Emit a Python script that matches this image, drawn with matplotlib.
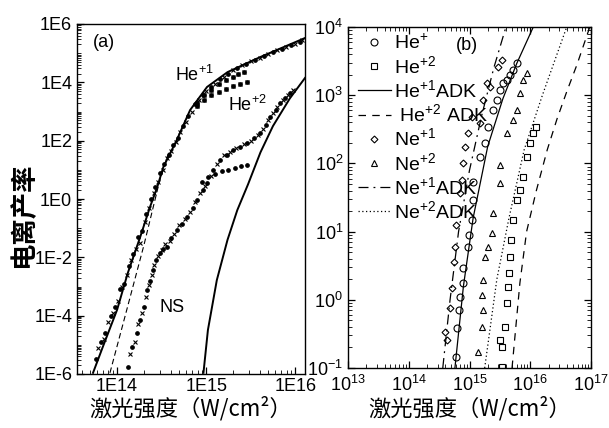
import numpy as np
import matplotlib
matplotlib.use('Agg')
import matplotlib.pyplot as plt
from matplotlib.ticker import LogLocator, NullFormatter

plt.rcParams['font.family'] = ['Liberation Sans', 'Noto Sans CJK SC', 'DejaVu Sans']
plt.rcParams['mathtext.fontset'] = 'custom'
plt.rcParams['mathtext.rm'] = 'Liberation Sans'
plt.rcParams['mathtext.it'] = 'Liberation Sans:italic'
plt.rcParams['mathtext.bf'] = 'Liberation Sans:bold'
plt.rcParams['mathtext.default'] = 'regular'

# ---------------- Panel (a) data (log10 intensity, log10 yield) ----------------
a_he1_adk_logI = [13.73, 13.84, 14.0, 14.12, 14.26, 14.37, 14.45, 14.52, 14.67, 14.82, 15.01, 15.24, 15.61, 16.11]
a_he1_adk_logY = [-5.96, -5.07, -3.8, -2.54, -1.3, -0.27, 0.4, 1.1, 2.02, 3.05, 3.84, 4.35, 4.87, 5.52]

a_dash_logI = [13.92, 14.1, 14.3, 14.48, 14.58]
a_dash_logY = [-5.96, -3.9, -1.6, 0.65, 1.6]

a_he2_adk_logI = [14.97, 15.02, 15.12, 15.24, 15.35, 15.47, 15.61, 15.75, 15.94, 16.11]
a_he2_adk_logY = [-5.96, -4.49, -2.78, -1.4, -0.38, 0.5, 1.6, 2.5, 3.45, 4.15]

a_he1_dots_logI = [13.76, 13.82, 13.87, 13.93, 13.98, 14.03, 14.08, 14.13, 14.18, 14.23, 14.28, 14.33,
                   14.38, 14.43, 14.48, 14.53, 14.58, 14.63, 14.68, 14.74, 14.8, 14.88, 14.96, 15.05,
                   15.15, 15.25, 15.35, 15.45, 15.55, 15.65, 15.75, 15.85, 15.95, 16.05]
a_he1_dots_logY = [-5.5, -4.9, -4.6, -4.0, -3.7, -3.1, -2.9, -2.3, -1.9, -1.3, -1.1, -0.5,
                   0.0, 0.4, 0.9, 1.2, 1.5, 1.85, 2.1, 2.5, 2.85, 3.25, 3.55, 3.85,
                   4.1, 4.3, 4.5, 4.62, 4.76, 4.9, 5.03, 5.14, 5.27, 5.4]
a_he1_cross_logI = [13.79, 13.85, 13.9, 13.95, 14.01, 14.06, 14.11, 14.16, 14.21, 14.26, 14.31, 14.36,
                    14.41, 14.46, 14.51, 14.56, 14.61, 14.66, 14.71, 14.77, 14.84, 14.92, 15.0, 15.1,
                    15.2, 15.3, 15.4, 15.5, 15.6, 15.7, 15.8, 15.9, 16.0, 16.08]
a_he1_cross_logY = [-5.1, -4.8, -4.2, -3.9, -3.5, -3.0, -2.6, -2.1, -1.7, -1.5, -0.8, -0.3,
                    0.2, 0.6, 1.0, 1.4, 1.65, 1.95, 2.3, 2.65, 3.0, 3.4, 3.7, 3.95,
                    4.2, 4.42, 4.58, 4.72, 4.84, 4.97, 5.1, 5.2, 5.33, 5.46]
a_he1_br1_logI = [14.9, 14.98, 15.06, 15.14, 15.22, 15.3, 15.36, 15.42]
a_he1_br1_logY = [3.3, 3.55, 3.75, 3.95, 4.08, 4.2, 4.28, 4.35]
a_he1_br2_logI = [14.9, 14.98, 15.06, 15.14, 15.22, 15.3, 15.38, 15.46]
a_he1_br2_logY = [3.2, 3.4, 3.55, 3.68, 3.78, 3.88, 3.95, 4.0]

a_he2_dots_logI = [14.12, 14.17, 14.22, 14.26, 14.3, 14.34, 14.37, 14.4, 14.44, 14.48, 14.52, 14.56,
                   14.61, 14.67, 14.73, 14.79, 14.85, 14.9, 14.96, 15.01, 15.08, 15.16, 15.23, 15.3,
                   15.38, 15.46, 15.54, 15.61, 15.67, 15.72, 15.78, 15.83, 15.89, 15.94]
a_he2_dots_logY = [-5.76, -5.07, -4.6, -4.15, -3.7, -3.12, -2.8, -2.43, -2.1, -1.85, -1.7, -1.64,
                   -1.35, -1.06, -0.85, -0.62, -0.3, -0.03, 0.3, 0.55, 1.0, 1.35, 1.52, 1.68,
                   1.8, 1.92, 2.1, 2.26, 2.55, 2.81, 3.05, 3.29, 3.45, 3.63]
a_he2_cross_logI = [14.15, 14.2, 14.24, 14.28, 14.32, 14.36, 14.39, 14.42, 14.46, 14.5, 14.54, 14.59,
                    14.64, 14.7, 14.76, 14.82, 14.88, 14.93, 14.99, 15.05, 15.12, 15.2, 15.27, 15.34,
                    15.42, 15.5, 15.58, 15.64, 15.7, 15.75, 15.8, 15.86, 15.92, 15.98]
a_he2_cross_logY = [-5.3, -4.9, -4.3, -3.9, -3.35, -2.95, -2.6, -2.25, -1.95, -1.75, -1.55, -1.45,
                    -1.2, -0.9, -0.7, -0.45, -0.1, 0.2, 0.45, 0.8, 1.2, 1.5, 1.62, 1.75,
                    1.88, 2.0, 2.2, 2.4, 2.7, 2.95, 3.15, 3.38, 3.55, 3.75]
a_he2_br_logI = [14.95, 15.02, 15.1, 15.18, 15.25, 15.32, 15.39, 15.46]
a_he2_br_logY = [0.6, 0.75, 0.85, 0.95, 1.0, 1.07, 1.12, 1.17]

a_ytick_vals = [1e-6, 1e-4, 1e-2, 1e0, 1e2, 1e4, 1e6]
a_ytick_labels = ['1E-6', '1E-4', '1E-2', '1E0', '1E2', '1E4', '1E6']
a_xtick_vals = [1e14, 1e15, 1e16]
a_xtick_labels = ['1E14', '1E15', '1E16']

# ---------------- Panel (b) data (log10 intensity, log10 yield) ----------------
b_he1_logI = [14.78, 14.8, 14.83, 14.84, 14.9, 14.9, 14.97, 14.99, 15.04, 15.06, 15.06, 15.17,
              15.26, 15.3, 15.39, 15.45, 15.5, 15.55, 15.61, 15.67, 15.72, 15.78]
b_he1_logY = [-0.84, -0.41, -0.15, 0.04, 0.25, 0.47, 0.77, 0.95, 1.17, 1.46, 1.73, 2.09,
              2.3, 2.53, 2.78, 2.93, 3.07, 3.18, 3.22, 3.3, 3.37, 3.47]
b_he2_logI = [15.53, 15.5, 15.53, 15.58, 15.61, 15.64, 15.65, 15.67, 15.69, 15.72, 15.78, 15.83,
              15.88, 15.94, 15.99, 16.05, 16.1]
b_he2_logY = [-0.98, -0.59, -0.69, -0.4, -0.05, 0.19, 0.39, 0.63, 0.88, 1.17, 1.46, 1.61,
              1.8, 2.09, 2.3, 2.45, 2.53]
b_ne1_logI = [14.6, 14.63, 14.68, 14.71, 14.74, 14.76, 14.78, 14.84, 14.88, 14.9, 14.93, 14.98,
              15.04, 15.17, 15.22, 15.29, 15.34, 15.47, 15.53]
b_ne1_logY = [-0.47, -0.59, -0.12, 0.17, 0.55, 0.77, 1.1, 1.57, 1.76, 2.0, 2.24, 2.45,
              2.68, 2.59, 2.93, 3.18, 3.12, 3.41, 3.52]
b_ne2_logI = [15.14, 15.2, 15.22, 15.2, 15.23, 15.26, 15.31, 15.37, 15.39, 15.5, 15.5, 15.61,
              15.72, 15.78, 15.83, 15.88, 15.94]
b_ne2_logY = [-0.77, -0.4, -0.15, 0.07, 0.29, 0.63, 0.77, 0.98, 1.27, 1.71, 1.98, 2.45,
              2.64, 2.78, 3.03, 3.22, 3.32]

b_he1_adk_logI = [14.76, 14.9, 15.06, 15.3, 15.55, 15.78, 16.05]
b_he1_adk_logY = [-1.0, 0.2, 1.2, 2.25, 2.95, 3.47, 4.0]
b_he2_adk_logI = [15.7, 15.83, 15.94, 16.1, 16.28, 16.44, 16.6, 16.77, 16.98]
b_he2_adk_logY = [-1.0, 0.25, 1.0, 1.6, 2.2, 2.65, 3.05, 3.45, 4.0]
b_ne1_adk_logI = [14.56, 14.68, 14.82, 15.0, 15.2, 15.4, 15.6]
b_ne1_adk_logY = [-1.0, 0.0, 1.0, 1.9, 2.7, 3.4, 4.0]
b_ne2_adk_logI = [15.25, 15.45, 15.65, 15.9, 16.2, 16.6]
b_ne2_adk_logY = [-1.0, 0.3, 1.2, 2.2, 3.0, 4.0]

b_labels = ['He$^{+}$', 'He$^{+2}$', 'He$^{+1}$ADK', ' He$^{+2}$ ADK',
            'Ne$^{+1}$', 'Ne$^{+2}$', 'Ne$^{+1}$ADK', 'Ne$^{+2}$ADK']

cjk = ['Noto Sans CJK SC', 'DejaVu Sans']


def p(v):
    return 10.0 ** np.asarray(v)


fig = plt.figure(figsize=(6.09, 4.28), dpi=100)
axa = fig.add_axes([77 / 609, 1 - 374 / 428, 228 / 609, 350 / 428])
axb = fig.add_axes([348 / 609, 1 - 368 / 428, 243 / 609, 341 / 428])

# ---- panel (a)
axa.set_xscale('log')
axa.set_yscale('log')
axa.plot(p(a_he1_adk_logI), p(a_he1_adk_logY), color='black', lw=1.4)
axa.plot(p(a_dash_logI), p(a_dash_logY), color='black', lw=0.8, ls=(0, (5, 3)))
axa.plot(p(a_he2_adk_logI), p(a_he2_adk_logY), color='black', lw=1.4)
for xs, ys in [(a_he1_dots_logI, a_he1_dots_logY), (a_he2_dots_logI, a_he2_dots_logY),
               (a_he1_br1_logI, a_he1_br1_logY), (a_he1_br2_logI, a_he1_br2_logY),
               (a_he2_br_logI, a_he2_br_logY)]:
    axa.plot(p(xs), p(ys), ls='none', marker='o', ms=2.4, color='black')
for xs, ys in [(a_he1_cross_logI, a_he1_cross_logY), (a_he2_cross_logI, a_he2_cross_logY),
               (a_he1_br1_logI, a_he1_br1_logY), (a_he1_br2_logI, a_he1_br2_logY)]:
    axa.plot(p(xs), p(ys), ls='none', marker='x', ms=3.5, mew=0.8, color='black')

axa.set_xlim(10 ** 13.55, 10 ** 16.11)
axa.set_ylim(1e-6, 1e6)
axa.set_yticks(a_ytick_vals)
axa.set_yticklabels(a_ytick_labels)
axa.set_xticks(a_xtick_vals)
axa.set_xticklabels(a_xtick_labels)
axa.yaxis.set_minor_locator(LogLocator(base=10, subs=np.arange(1, 10), numticks=100))
axa.xaxis.set_minor_locator(LogLocator(base=10, subs=np.arange(2, 10), numticks=100))
axa.yaxis.set_minor_formatter(NullFormatter())
axa.xaxis.set_minor_formatter(NullFormatter())
axa.tick_params(which='both', direction='in', top=False, right=False, labelsize=13)
axa.tick_params(which='major', length=5, width=0.9)
axa.tick_params(which='minor', length=3, width=0.6)
axa.tick_params(axis='x', pad=3)
for s in axa.spines.values():
    s.set_linewidth(1.0)

axa.text(0.118, 0.946, '(a)', transform=axa.transAxes, fontsize=13, ha='center', va='center')
axa.text(0.43, 0.854, 'He$^{+1}$', transform=axa.transAxes, fontsize=13, ha='left', va='center')
axa.text(0.662, 0.769, 'He$^{+2}$', transform=axa.transAxes, fontsize=13, ha='left', va='center')
axa.text(0.364, 0.191, 'NS', transform=axa.transAxes, fontsize=13, ha='left', va='center')
axa.set_xlabel('激光强度（W/cm²）', family=cjk, fontsize=16)
axa.xaxis.set_label_coords(0.5, -0.062)
axa.set_ylabel('电离产率', family=cjk, fontsize=19, fontweight='bold')
axa.yaxis.set_label_coords(-0.175, 0.455)

# ---- panel (b)
axb.set_xscale('log')
axb.set_yscale('log')
h_he1, = axb.plot(p(b_he1_logI), p(b_he1_logY), ls='none', marker='o', ms=5, mfc='none', mec='black', mew=0.8)
h_he2, = axb.plot(p(b_he2_logI), p(b_he2_logY), ls='none', marker='s', ms=4.5, mfc='none', mec='black', mew=0.8)
h_ne1, = axb.plot(p(b_ne1_logI), p(b_ne1_logY), ls='none', marker='D', ms=3.5, mfc='none', mec='black', mew=0.8)
h_ne2, = axb.plot(p(b_ne2_logI), p(b_ne2_logY), ls='none', marker='^', ms=4.5, mfc='none', mec='black', mew=0.8)
h_he1a, = axb.plot(p(b_he1_adk_logI), p(b_he1_adk_logY), color='black', lw=0.9, ls='-')
h_he2a, = axb.plot(p(b_he2_adk_logI), p(b_he2_adk_logY), color='black', lw=0.9, ls=(0, (6, 5)))
h_ne1a, = axb.plot(p(b_ne1_adk_logI), p(b_ne1_adk_logY), color='black', lw=0.9, ls=(0, (8, 4, 1.5, 4)))
h_ne2a, = axb.plot(p(b_ne2_adk_logI), p(b_ne2_adk_logY), color='black', lw=0.9, ls=(0, (1, 2)))

axb.set_xlim(1e13, 1e17)
axb.set_ylim(1e-1, 1e4)
axb.xaxis.set_major_locator(LogLocator(base=10, numticks=10))
axb.yaxis.set_major_locator(LogLocator(base=10, numticks=10))
axb.yaxis.set_minor_locator(LogLocator(base=10, subs=np.arange(2, 10), numticks=100))
axb.xaxis.set_minor_locator(LogLocator(base=10, subs=np.arange(2, 10), numticks=100))
axb.yaxis.set_minor_formatter(NullFormatter())
axb.xaxis.set_minor_formatter(NullFormatter())
axb.tick_params(which='both', direction='in', top=True, right=True, labelsize=13)
axb.tick_params(which='major', length=5, width=0.9)
axb.tick_params(which='minor', length=3, width=0.6)
axb.tick_params(axis='x', pad=5)
for s in axb.spines.values():
    s.set_linewidth(1.0)

axb.text(0.49, 0.947, '(b)', transform=axb.transAxes, fontsize=13, ha='center', va='center')
leg = axb.legend([h_he1, h_he2, h_he1a, h_he2a, h_ne1, h_ne2, h_ne1a, h_ne2a], b_labels,
                 loc='upper left', bbox_to_anchor=(0.0, 1.01), frameon=False, fontsize=14,
                 handlelength=1.7, handletextpad=0.15, labelspacing=0.12, borderaxespad=0.3,
                 borderpad=0.2)
axb.set_xlabel('激光强度（W/cm²）', family=cjk, fontsize=16)
axb.xaxis.set_label_coords(0.5, -0.082)

fig.savefig('out.png', dpi=100)
